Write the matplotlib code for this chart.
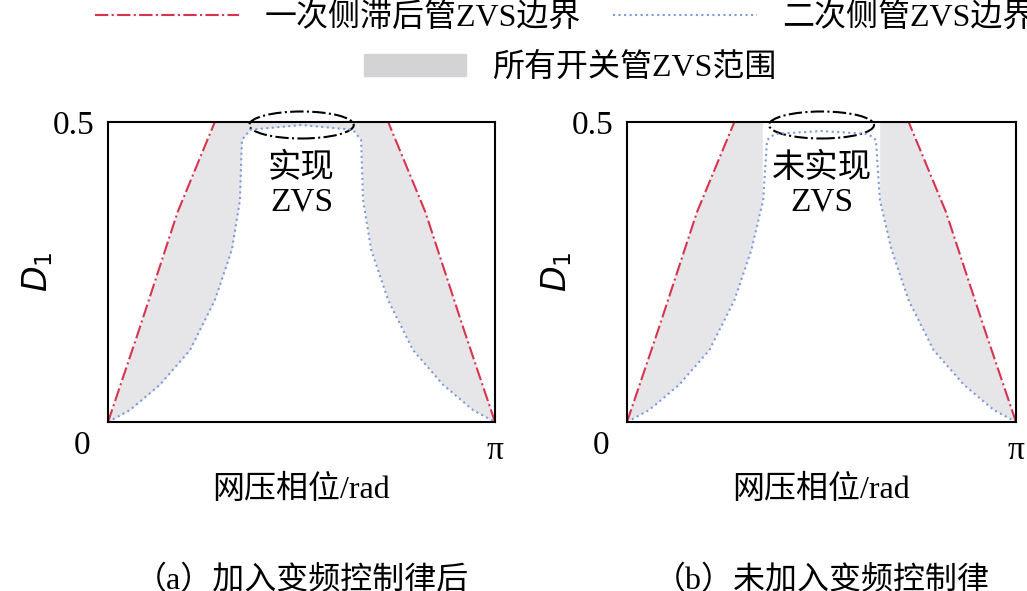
import numpy as np
import matplotlib.pyplot as plt
from matplotlib.patches import Ellipse, Patch
from matplotlib.lines import Line2D

plt.rcParams['font.family'] = ['Liberation Serif', 'Noto Sans CJK SC']
plt.rcParams['font.size'] = 22

# boundary curves (x in units of pi, half curve, mirrored)
red_x = [0.0, 0.08, 0.18, 0.276]
red_y = [0.0, 0.153, 0.35, 0.5]
blue_x = [0.0, 0.057, 0.134, 0.212, 0.276, 0.320, 0.341, 0.346, 0.367, 0.50]
blue_y = [0.0, 0.02, 0.062, 0.12, 0.203, 0.287, 0.37, 0.47, 0.487, 0.495]
# right panel: hump slightly lower, edges slightly different
blue_x_b = [0.0, 0.057, 0.134, 0.212, 0.276, 0.320, 0.350, 0.360, 0.38, 0.50]
blue_y_b = [0.0, 0.02, 0.062, 0.12, 0.203, 0.287, 0.37, 0.47, 0.48, 0.485]

def full(xs, ys):
    xs = np.array(xs); ys = np.array(ys)
    x = np.concatenate([xs, 1 - xs[::-1]]) * np.pi
    y = np.concatenate([ys, ys[::-1]])
    return x, y

fig = plt.figure(figsize=(10.27, 5.91), dpi=100)
axes = [fig.add_axes([108/1027, 1-422/591, 387/1027, 300/591]),
        fig.add_axes([627/1027, 1-422/591, 389/1027, 300/591])]
cfg = [(blue_x, blue_y, True, '实现\nZVS', '（a）加入变频控制律后'),
       (blue_x_b, blue_y_b, False, '未实现\nZVS', '（b）未加入变频控制律')]
for ax, (bx, by, fill_top, txt, cap) in zip(axes, cfg):
    bxx, byy = full(bx, by)
    grid = np.linspace(0, np.pi, 800)
    r = np.interp(grid, np.array(red_x + [1 - v for v in red_x[::-1]]) * np.pi,
                  red_y + red_y[::-1])
    mid = (grid > red_x[-1] * np.pi) & (grid < (1 - red_x[-1]) * np.pi)
    r[mid] = 0.5
    b = np.interp(grid, bxx, byy)
    if fill_top:
        ax.fill_between(grid, b, r, color='#e6e6e9', lw=0)
    else:
        side = (grid < bx[-4] * np.pi) | (grid > (1 - bx[-4]) * np.pi)
        ax.fill_between(grid, b, r, where=side, color='#e6e6e9', lw=0)
    lx = np.array(red_x) * np.pi
    ax.plot(lx, red_y, color='#d8344f', ls='-.', lw=1.5)
    ax.plot(np.pi - lx, red_y, color='#d8344f', ls='-.', lw=1.5)
    ax.plot(bxx, byy, color='#7f9bd6', ls=':', lw=1.5)
    ax.add_patch(Ellipse((np.pi / 2, 0.495), 0.27 * np.pi, 0.045, fill=False,
                         ls='-.', lw=1.5, ec='black', clip_on=False))
    ax.text(np.pi / 2, 0.395, txt, ha='center', va='center', fontsize=24, linespacing=1.1)
    ax.set_xlim(0, np.pi)
    ax.set_ylim(0, 0.5)
    ax.set_xticks([np.pi])
    ax.set_xticklabels(['π'])
    ax.set_yticks([0.5])
    ax.set_yticklabels(['0.5'])
    ax.tick_params(length=0, pad=10, labelsize=24)
    ax.text(-0.045, -0.03, '0', transform=ax.transAxes, ha='right', va='top', fontsize=24)
    ax.set_ylabel('$D_1$', fontsize=24, labelpad=-2)
    ax.set_xlabel('网压相位/rad', labelpad=6, fontsize=23)
    for s in ax.spines.values():
        s.set_linewidth(1.5)
    ax.text(0.5, -0.53, cap, transform=ax.transAxes, ha='center', va='center', fontsize=23)

h1 = [Line2D([], [], color='#d8344f', ls='-.', lw=1.5),
      Line2D([], [], color='#7f9bd6', ls=':', lw=1.5)]
fig.legend(h1, ['一次侧滞后管ZVS边界', '二次侧管ZVS边界'], loc='center',
           bbox_to_anchor=(0.55, 0.97), ncol=2, frameon=False, handlelength=4.5,
           columnspacing=1.0, borderpad=0, fontsize=23)
fig.legend([Patch(color='#d3d3d6')], ['所有开关管ZVS范围'], loc='center',
           bbox_to_anchor=(0.555, 0.885), frameon=False, handlelength=3.2, borderpad=0,
           fontsize=23)
fig.savefig('out.png', dpi=100)
